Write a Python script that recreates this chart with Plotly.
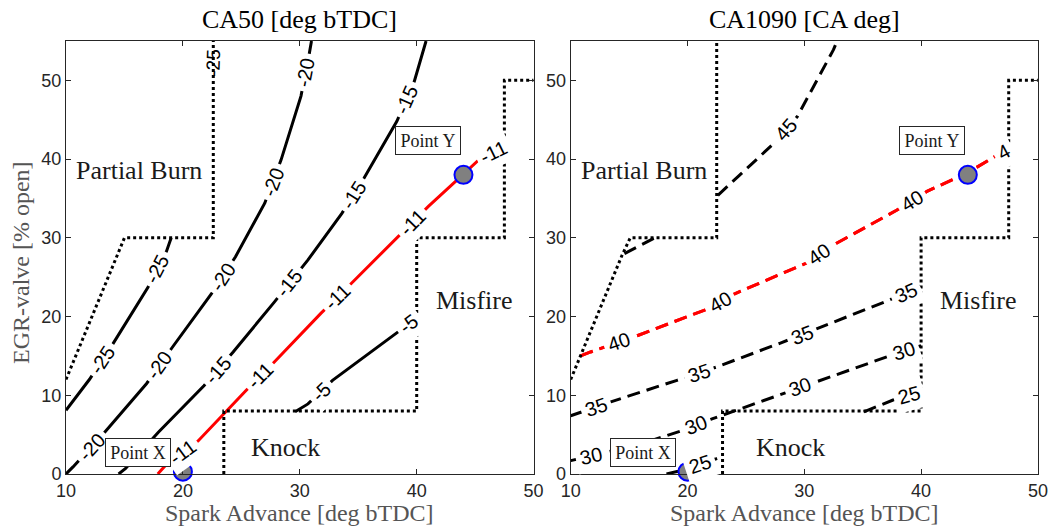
import math
import plotly.graph_objects as go

# ---------------- values ----------------
x_ticks = [10, 20, 30, 40, 50]
y_ticks = [0, 10, 20, 30, 40, 50]
x_range = [10, 50]
y_range = [0, 55]

# CA50 [deg bTDC] contours (solid lines), visible parts
ca50_m25_x = [10.0, 12.0, 14.0, 17.0, 18.6, 19.0]
ca50_m25_y = [8.1, 12.0, 16.5, 23.7, 28.3, 30.0]
ca50_m25_lbl = [13.1, 17.8]

ca50_m20_x = [10.0, 10.6, 13.2, 16.9, 19.1, 22.4, 24.5, 27.0, 28.4, 30.1, 30.8, 31.0]
ca50_m20_y = [0.0, 0.9, 5.1, 11.5, 16.1, 22.8, 27.6, 34.4, 39.9, 48.0, 53.3, 55.0]
ca50_m20_lbl = [12.2, 18.0, 23.4, 27.7, 30.5]

ca50_m15_x = [14.5, 15.1, 17.9, 21.8, 24.3, 27.8, 30.7, 33.6, 35.5, 38.3, 39.8, 40.8]
ca50_m15_y = [0.0, 0.7, 5.3, 11.2, 15.5, 21.8, 27.2, 33.1, 37.6, 44.8, 49.9, 55.0]
ca50_m15_lbl = [23.0, 29.1, 34.6, 39.1]

ca50_m11_x = [17.85, 18.7, 21.3, 25.4, 27.8, 31.8, 34.4, 38.4, 41.0, 44.0, 45.3, 47.5]
ca50_m11_y = [0.0, 1.4, 4.2, 10.6, 14.2, 20.4, 24.2, 30.1, 34.0, 38.1, 39.9, 41.5]
ca50_m11_lbl = [20.0, 26.6, 33.2, 39.6, 46.6]

ca50_m5_x = [29.6, 30.7, 32.8, 38.0, 40.0]
ca50_m5_y = [7.9, 8.9, 11.9, 17.6, 19.8]
ca50_m5_lbl = [31.8, 39.3]

# CA1090 [CA deg] contours (dashed lines), visible parts
ca1090_25a_x = [18.2, 19.2, 22.4, 22.95]
ca1090_25a_y = [0.0, 0.35, 1.9, 2.2]
ca1090_25a_lbl = [21.1]
ca1090_25b_x = [35.1, 37.6, 40.0]
ca1090_25b_y = [7.9, 9.4, 10.4]
ca1090_25b_lbl = [39.0]

ca1090_30_x = [10.0, 12.9, 16.8, 19.5, 22.1, 28.5, 30.9, 37.1, 40.0]
ca1090_30_y = [1.7, 2.7, 4.2, 5.5, 7.0, 10.4, 11.7, 14.9, 16.3]
ca1090_30_lbl = [11.7, 20.7, 29.6, 38.5]

ca1090_35_x = [10.0, 13.5, 19.1, 22.5, 27.9, 31.2, 37.3, 40.0]
ca1090_35_y = [7.4, 9.2, 11.9, 13.6, 16.6, 18.5, 22.1, 23.9]
ca1090_35_lbl = [12.2, 21.0, 29.8, 38.7]

ca1090_40_x = [10.85, 11.7, 15.4, 21.6, 23.9, 30.2, 32.5, 37.9, 40.5, 43.9, 46.4, 47.5]
ca1090_40_y = [15.0, 15.5, 17.4, 20.9, 22.8, 26.8, 29.1, 33.5, 35.9, 38.2, 40.4, 41.3]
ca1090_40_lbl = [14.1, 22.8, 31.3, 39.2]
ca1090_40_cut_lbl = [47.05]

ca1090_45a_x = [14.6, 17.2]
ca1090_45a_y = [28.0, 30.0]
ca1090_45b_x = [22.6, 27.4, 29.4, 32.5, 32.75]
ca1090_45b_y = [35.4, 42.0, 45.4, 53.9, 54.8]
ca1090_45b_lbl = [28.4]

# operating-region boundaries (dotted)
left_burn_x = [10.0, 15.0, 22.6, 22.6]
left_burn_y = [12.0, 30.0, 30.0, 55.0]
left_knock_x = [23.5, 23.5, 40.0, 40.0, 47.5, 47.5, 50.0]
left_knock_y = [0.0, 8.0, 8.0, 30.0, 30.0, 50.0, 50.0]
right_burn_x = [10.0, 14.4, 15.1, 22.5, 22.5]
right_burn_y = [12.0, 27.8, 30.0, 30.0, 55.0]
right_knock_x = [23.0, 23.0, 40.0, 40.0, 47.5, 47.5, 50.0]
right_knock_y = [0.0, 8.0, 8.0, 30.0, 30.0, 50.0, 50.0]

# operating points
point_names = ["Point X", "Point Y"]
point_x = [20.0, 44.0]
point_y = [0.3, 38.0]
point_box_x = [16.15, 40.93]
point_box_y = [2.7, 42.3]

region_names = ["Partial Burn", "Misfire", "Knock"]
region_x = [16.25, 44.95, 28.8]
region_y = [38.6, 22.1, 3.4]

panel_titles = ["CA50 [deg bTDC]", "CA1090 [CA deg]"]
x_title = "Spark Advance [deg bTDC]"
y_title = "EGR-valve [% open]"

# ---------------- layout geometry ----------------
W, H = 1050, 529
L1, R1 = 66.0, 533.6
L2, R2 = 570.7, 1037.9
TOP, BOT = 41.0, 474.0
SX = (R1 - L1) / (x_range[1] - x_range[0])
SY = (BOT - TOP) / (y_range[1] - y_range[0])

SERIF = "Liberation Serif"
SANS = "Liberation Sans"
RED = "#ff0000"

fig = go.Figure()
annotations = []


def interp(xs, ys, x0):
    for i in range(len(xs) - 1):
        if xs[i] <= x0 <= xs[i + 1]:
            t = (x0 - xs[i]) / (xs[i + 1] - xs[i])
            return ys[i] + t * (ys[i + 1] - ys[i]), i
    return ys[-1], len(xs) - 2


def add_contour(xs, ys, color, dash, axis, labels, text, bg=True):
    xa = "x" if axis == 1 else "x2"
    ya = "y" if axis == 1 else "y2"
    fig.add_trace(go.Scatter(x=xs, y=ys, mode="lines", xaxis=xa, yaxis=ya,
                             line=dict(color=color, width=3, dash=dash),
                             hoverinfo="skip", showlegend=False))
    for lx in labels:
        ly, i = interp(xs, ys, lx)
        dx = (xs[i + 1] - xs[i]) * SX
        dy = (ys[i + 1] - ys[i]) * SY
        ang = -math.degrees(math.atan2(dy, dx))
        annotations.append(dict(x=lx, y=ly, xref=xa, yref=ya, text=text,
                                showarrow=False, textangle=ang,
                                font=dict(family=SANS, size=20, color="black"),
                                bgcolor="white" if bg else "rgba(0,0,0,0)",
                                borderpad=4, xanchor="center", yanchor="middle"))


DASH = "13px,7px"
# left panel
add_contour(ca50_m25_x, ca50_m25_y, "black", "solid", 1, ca50_m25_lbl, "-25")
add_contour(ca50_m20_x, ca50_m20_y, "black", "solid", 1, ca50_m20_lbl, "-20")
add_contour(ca50_m15_x, ca50_m15_y, "black", "solid", 1, ca50_m15_lbl, "-15")
add_contour(ca50_m11_x, ca50_m11_y, RED, "solid", 1, ca50_m11_lbl, "-11")
add_contour(ca50_m5_x, ca50_m5_y, "black", "solid", 1, ca50_m5_lbl, "-5")
annotations.append(dict(x=22.55, y=52.2, xref="x", yref="y", text="-25", showarrow=False,
                        textangle=-88, font=dict(family=SANS, size=19, color="black")))
# right panel
add_contour(ca1090_25a_x, ca1090_25a_y, "black", DASH, 2, ca1090_25a_lbl, "25")
add_contour(ca1090_25b_x, ca1090_25b_y, "black", DASH, 2, ca1090_25b_lbl, "25")
add_contour(ca1090_30_x, ca1090_30_y, "black", DASH, 2, ca1090_30_lbl, "30")
add_contour(ca1090_35_x, ca1090_35_y, "black", DASH, 2, ca1090_35_lbl, "35")
add_contour(ca1090_40_x, ca1090_40_y, RED, DASH, 2, ca1090_40_lbl, "40")
add_contour(ca1090_40_x, ca1090_40_y, RED, DASH, 2, ca1090_40_cut_lbl, "4")
add_contour(ca1090_45a_x, ca1090_45a_y, "black", DASH, 2, [], "45")
add_contour(ca1090_45b_x, ca1090_45b_y, "black", DASH, 2, ca1090_45b_lbl, "45")

# boundaries
for bx, by, ax in [(left_burn_x, left_burn_y, 1), (left_knock_x, left_knock_y, 1),
                   (right_burn_x, right_burn_y, 2), (right_knock_x, right_knock_y, 2)]:
    fig.add_trace(go.Scatter(x=bx, y=by, mode="lines",
                             xaxis="x" if ax == 1 else "x2", yaxis="y" if ax == 1 else "y2",
                             line=dict(color="black", width=3, dash="3px,3px"),
                             hoverinfo="skip", showlegend=False))

# points and boxes
for ax in (1, 2):
    xa = "x" if ax == 1 else "x2"
    ya = "y" if ax == 1 else "y2"
    fig.add_trace(go.Scatter(x=point_x, y=point_y, mode="markers", xaxis=xa, yaxis=ya,
                             marker=dict(size=18, color="#808080",
                                         line=dict(color="#0000ff", width=2)),
                             cliponaxis=False, hoverinfo="skip", showlegend=False))
    for name, bx, by in zip(point_names, point_box_x, point_box_y):
        annotations.append(dict(x=bx, y=by, xref=xa, yref=ya, text=name, showarrow=False,
                                font=dict(family=SERIF, size=18, color="#1a1a1a"),
                                bgcolor="white", bordercolor="#262626", borderwidth=1,
                                borderpad=0, width=64, height=27,
                                xanchor="center", yanchor="middle"))
    for name, rx, ry in zip(region_names, region_x, region_y):
        annotations.append(dict(x=rx, y=ry, xref=xa, yref=ya, text=name, showarrow=False,
                                font=dict(family=SERIF, size=26, color="#1a1a1a"),
                                xanchor="center", yanchor="middle"))

# titles
for i, (l, r) in enumerate([(L1, R1), (L2, R2)]):
    cx = (l + r) / 2 / W
    annotations.append(dict(x=cx, y=1 - 19 / H, xref="paper", yref="paper",
                            text=panel_titles[i], showarrow=False,
                            font=dict(family=SERIF, size=26, color="black"),
                            xanchor="center", yanchor="middle"))
    annotations.append(dict(x=cx, y=1 - 513 / H, xref="paper", yref="paper",
                            text=x_title, showarrow=False,
                            font=dict(family=SERIF, size=24, color="#555555"),
                            xanchor="center", yanchor="middle"))
annotations.append(dict(x=21 / W, y=1 - 263 / H, xref="paper", yref="paper",
                        text=y_title, showarrow=False, textangle=-90,
                        font=dict(family=SERIF, size=24, color="#555555"),
                        xanchor="center", yanchor="middle"))

axis_common = dict(showline=True, linecolor="#262626", linewidth=1, mirror="ticks",
                   ticks="inside", ticklen=5, tickcolor="#262626", tickwidth=1,
                   showgrid=False, zeroline=False, automargin=False,
                   tickfont=dict(family=SANS, size=18, color="#262626"))
ydom = [(H - BOT) / H, (H - TOP) / H]
fig.update_layout(
    width=W, height=H, margin=dict(l=0, r=0, t=0, b=0, autoexpand=False),
    paper_bgcolor="white", plot_bgcolor="white", showlegend=False,
    xaxis=dict(domain=[L1 / W, R1 / W], range=x_range, tickvals=x_ticks, anchor="y", **axis_common),
    yaxis=dict(domain=ydom, range=y_range, tickvals=y_ticks, anchor="x", **axis_common),
    xaxis2=dict(domain=[L2 / W, R2 / W], range=x_range, tickvals=x_ticks, anchor="y2", **axis_common),
    yaxis2=dict(domain=ydom, range=y_range, tickvals=y_ticks, anchor="x2", **axis_common),
    annotations=annotations,
)

fig.write_html("out.html")
